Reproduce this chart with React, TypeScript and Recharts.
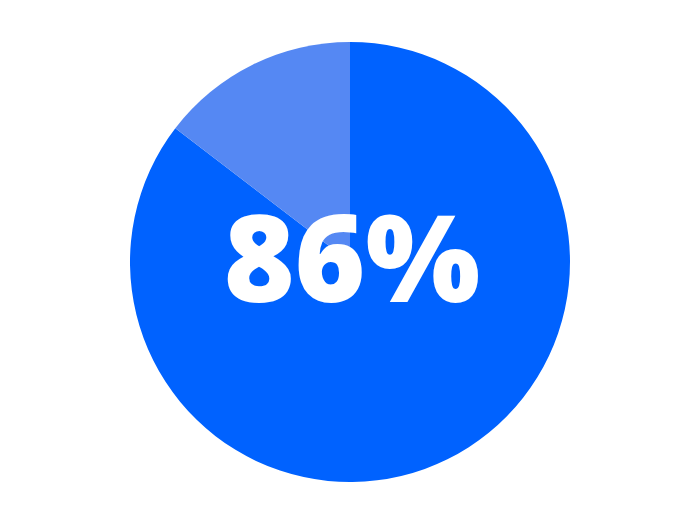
import React from 'react';
import { PieChart, Pie, Cell, Label } from 'recharts';

const segments = ['Yes', 'No'];
const shares = [85.4, 14.6];
const colors = ['#0062FF', '#5588F3'];
const centerLabel = '86%';

const data = segments.map((name, i) => ({ name, value: shares[i] }));

const CenterText = (props: any) => {
  const { viewBox } = props;
  const cx = viewBox?.cx ?? 350;
  const cy = viewBox?.cy ?? 262;
  return (
    <text
      x={cx + 2}
      y={cy + 40}
      textAnchor="middle"
      fill="#FFFFFF"
      fontFamily="'Open Sans', sans-serif"
      fontWeight={800}
      fontSize={121}
    >
      {centerLabel}
    </text>
  );
};

export default function App() {
  return (
    <div style={{ margin: -8, width: 700, height: 524, background: '#FFFFFF' }}>
      <PieChart width={700} height={524} margin={{ top: 0, right: 0, bottom: 0, left: 0 }}>
        <Pie
          data={data}
          dataKey="value"
          nameKey="name"
          cx={350}
          cy={262}
          outerRadius={220}
          startAngle={90}
          endAngle={-270}
          stroke="none"
          isAnimationActive={false}
        >
          {data.map((d, i) => (
            <Cell key={d.name} fill={colors[i]} />
          ))}
          <Label position="center" content={<CenterText />} />
        </Pie>
      </PieChart>
    </div>
  );
}
